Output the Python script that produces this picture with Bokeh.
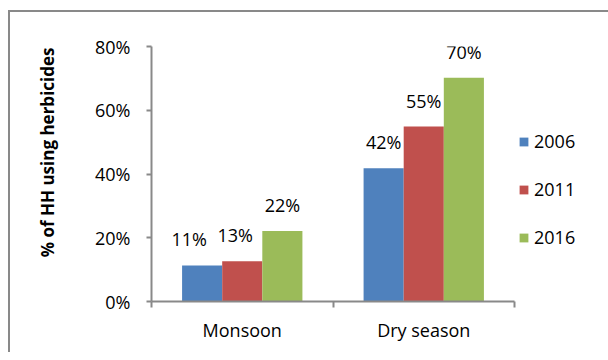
from bokeh.plotting import figure
from bokeh.models import (ColumnDataSource, Range1d, LinearAxis,
                          FixedTicker, NumeralTickFormatter, Title)
from bokeh.transform import dodge
from bokeh.core.properties import value
from bokeh.embed import file_html
from bokeh.resources import INLINE

seasons = ["Monsoon", "Dry season"]
years = ["2006", "2011", "2016"]
pct_2006 = [0.113, 0.418]
pct_2011 = [0.126, 0.549]
pct_2016 = [0.221, 0.702]
y_ticks = [0.0, 0.2, 0.4, 0.6, 0.8]
y_title = "% of HH using herbicides"

colors = ["#4F81BD", "#C0504D", "#9BBB59"]
series = [pct_2006, pct_2011, pct_2016]
bar_w = 0.221
offsets = [-bar_w, 0.0, bar_w]
label_dx = [[-13, 0], [-7, 0], [0, 0]]

FONT = "Open Sans"
AXIS_COLOR = "#898989"

# layout (pixels)
W, H = 608, 352
LEFT, TOP, BOTTOM = 151, 46, 51
AXIS_PX = 363          # width of the drawn category axis
frame_w = W - LEFT     # frame extends to the right edge so the legend is not clipped

centres = [i + 0.5 for i in range(len(seasons))]
n = len(seasons)

p = figure(x_range=Range1d(0, n * frame_w / AXIS_PX), y_range=Range1d(0, 0.8),
           width=W, height=H, output_backend="svg", toolbar_location=None,
           x_axis_location=None, title_location=None,
           min_border_left=LEFT, min_border_right=0, min_border_top=TOP, min_border_bottom=BOTTOM)
grad = f"linear-gradient({AXIS_COLOR},{AXIS_COLOR})"
p.styles = {"background": f"{grad} 8px 10px / 2px 100% no-repeat, {grad} 8px 10px / 100% 2px no-repeat"}
p.border_fill_color = None
p.outline_line_color = None
p.grid.visible = False

for yr, vals, col, off, dx in zip(years, series, colors, offsets, label_dx):
    src = ColumnDataSource(dict(xc=centres, v=vals,
                                lbl=[f"{round(v * 100):d}%" for v in vals], dx=dx))
    p.vbar(x=dodge("xc", off), top="v", width=bar_w, source=src,
           fill_color=col, line_color=None, legend_label=yr)
    p.text(x=dodge("xc", off), y="v", text="lbl", source=src,
           x_offset="dx", y_offset=-26, text_align="center", text_baseline="middle",
           text_font=value(FONT), text_font_size="18px", text_color="black")

# y axis
ya = p.yaxis[0]
ya.ticker = FixedTicker(ticks=y_ticks)
ya.formatter = NumeralTickFormatter(format="0%")
ya.major_tick_in = 0
ya.major_tick_out = 5
ya.minor_tick_line_color = None
ya.axis_line_color = AXIS_COLOR
ya.axis_line_width = 2
ya.major_tick_line_color = AXIS_COLOR
ya.major_tick_line_width = 2
ya.major_label_text_font = FONT
ya.major_label_text_font_size = "18px"
ya.major_label_text_color = "black"
ya.major_label_standoff = 16

# x axis: tick marks at category edges, labels at centres
xa = LinearAxis(ticker=FixedTicker(ticks=centres, minor_ticks=list(range(n + 1))),
                major_label_overrides={c: s for c, s in zip(centres, seasons)},
                bounds=(0, n))
xa.major_tick_in = 0
xa.major_tick_out = 0
xa.major_tick_line_color = None
xa.minor_tick_in = 0
xa.minor_tick_out = 6
xa.minor_tick_line_color = AXIS_COLOR
xa.minor_tick_line_width = 2
xa.axis_line_color = AXIS_COLOR
xa.axis_line_width = 2
xa.major_label_text_font = FONT
xa.major_label_text_font_size = "18px"
xa.major_label_text_color = "black"
xa.major_label_standoff = 10
p.add_layout(xa, "below")

# y title
t = Title(text=y_title, align="right", offset=1, vertical_align="middle",
          text_font=FONT, text_font_size="17px",
          text_font_style="bold", text_color="black", standoff=66)
p.add_layout(t, "left")

# legend
lg = p.legend[0]
lg.location = (367, 52)
lg.padding = 0
lg.margin = 0
lg.border_line_color = None
lg.background_fill_alpha = 0
lg.glyph_width = 11
lg.glyph_height = 11
lg.label_standoff = 5
lg.label_height = 20
lg.spacing = 24
lg.label_text_font = FONT
lg.label_text_font_size = "18px"
lg.label_text_color = "black"

open("out.html", "w").write(file_html(p, INLINE))
